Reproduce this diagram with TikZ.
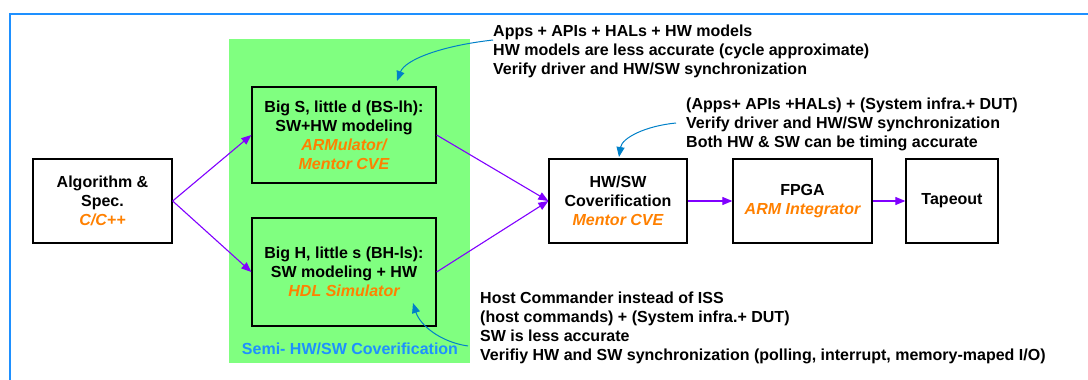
\documentclass[tikz,border=0pt]{standalone}
\usepackage{fontspec}
\setmainfont{Liberation Sans}
\usetikzlibrary{arrows.meta}
\definecolor{framblue}{RGB}{30,144,255}
\definecolor{callblue}{RGB}{0,128,200}
\definecolor{zonegreen}{RGB}{128,255,128}
\definecolor{toolorange}{RGB}{255,128,0}
\definecolor{flowpurple}{RGB}{128,0,255}
\tikzset{
  stagebox/.style={draw=black, line width=1.3pt, align=center, inner sep=0pt,
    font=\fontsize{16}{19}\selectfont\bfseries},
  flow/.style={draw=flowpurple, line width=1.1pt, -{Triangle[length=10pt,width=8pt]}},
  callout/.style={draw=callblue, line width=1pt, -{Triangle[length=10pt,width=8pt]}},
  note/.style={anchor=base west, align=left, inner sep=0pt,
    font=\fontsize{16}{19}\selectfont\bfseries}
}
\begin{document}
\begin{tikzpicture}[x=1pt, y=-1pt]
  \useasboundingbox (0,0) rectangle (1088,380);
  % outer frame
  \draw[framblue, line width=2pt] (10,400) -- (10,14) -- (1100,14);
  % semi co-verification zone
  \fill[zonegreen] (229,39) rectangle (470,363);
  \node[text=framblue, font=\fontsize{16}{19}\selectfont\bfseries] (zone) at (350,349) {Semi- HW/SW Coverification};

  % stages
  \node[stagebox, minimum width=139pt, minimum height=84pt] (alg) at (102.5,201)
    {Algorithm \&\\Spec.\\{\itshape\color{toolorange}C/C++}};
  \node[stagebox, minimum width=184pt, minimum height=96pt] (bs) at (344,135)
    {Big S, little d (BS-lh):\\SW+HW modeling\\{\itshape\color{toolorange}ARMulator/}\\{\itshape\color{toolorange}Mentor CVE}};
  \node[stagebox, minimum width=184pt, minimum height=108pt] (bh) at (344,272)
    {Big H, little s (BH-ls):\\SW modeling + HW\\{\itshape\color{toolorange}HDL Simulator}};
  \node[stagebox, minimum width=138pt, minimum height=84pt] (cov) at (618,201)
    {HW/SW\\Coverification\\{\itshape\color{toolorange}Mentor CVE}};
  \node[stagebox, minimum width=139pt, minimum height=84pt] (fpga) at (802.5,201)
    {FPGA\\{\itshape\color{toolorange}ARM Integrator}};
  \node[stagebox, minimum width=92pt, minimum height=84pt] (tape) at (952,201)
    {Tapeout};

  % flow
  \draw[flow] (alg.east) -- (bs.west);
  \draw[flow] (alg.east) -- (bh.west);
  \draw[flow] (bs.east) -- (cov.west);
  \draw[flow] (bh.east) -- (cov.west);
  \draw[flow] (cov.east) -- (fpga.west);
  \draw[flow] (fpga.east) -- (tape.west);

  % notes (placed by the baseline of their last line)
  \node[note] (n1) at (493,74)
    {Apps + APIs + HALs + HW models\\HW models are less accurate (cycle approximate)\\Verify driver and HW/SW synchronization};
  \node[note] (n2) at (686,147)
    {(Apps+ APIs +HALs) + (System infra.+ DUT)\\Verify driver and HW/SW synchronization\\Both HW \& SW can be timing accurate};
  \node[note] (n3) at (480,360)
    {Host Commander instead of ISS\\(host commands) + (System infra.+ DUT)\\SW is less accurate\\Verifiy HW and SW synchronization (polling, interrupt, memory-maped I/O)};

  % callouts
  \coordinate (c1s) at (493,40);
  \coordinate (c1e) at (397,81);
  \coordinate (c2s) at (676,123);
  \coordinate (c2e) at (619,157);
  \coordinate (c3s) at (468,346);
  \coordinate (c3e) at (413,303);
  \draw[callout] (c1s) .. controls (440,46) and (405,60) .. (c1e);
  \draw[callout] (c2s) .. controls (645,126) and (622,138) .. (c2e);
  \draw[callout] (c3s) .. controls (440,342) and (420,325) .. (c3e);
\end{tikzpicture}
\end{document}
